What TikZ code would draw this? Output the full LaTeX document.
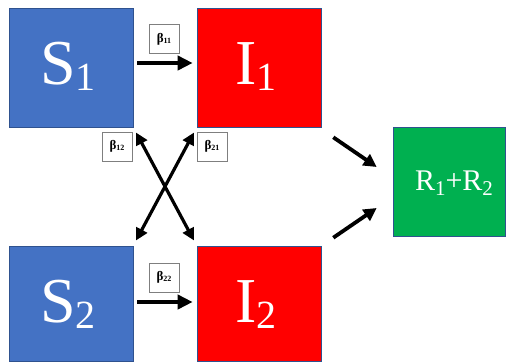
\documentclass[tikz,border=0pt]{standalone}
\usepackage{fontspec}
\setmainfont{Liberation Serif}
\usetikzlibrary{arrows.meta,calc}

\definecolor{sblue}{HTML}{4472C4}
\definecolor{ired}{HTML}{FF0000}
\definecolor{rgreen}{HTML}{00B050}
\definecolor{edgeblue}{HTML}{2F528F}
\definecolor{labgray}{HTML}{7F7F7F}

% subscript helpers
\newcommand{\bigsub}[1]{\raisebox{-6pt}{\fontsize{40}{40}\selectfont #1}}
\newcommand{\midsub}[1]{\raisebox{-5pt}{\fontsize{21}{21}\selectfont #1}}
\newcommand{\ratelab}[1]{\textbf{β\raisebox{-1pt}{\fontsize{8}{8}\selectfont #1}}}

\begin{document}
\begin{tikzpicture}[x=1pt,y=-1pt,
  compart/.style={draw=edgeblue, line width=0.6pt, minimum width=124pt, inner sep=0pt},
  comptext/.style={anchor=base, text=white, inner sep=0pt, font=\fontsize{64}{64}\selectfont},
  ratebox/.style={draw=labgray, fill=white, line width=0.8pt,
    minimum width=30pt, minimum height=29pt, inner sep=0pt,
    font=\fontsize{13}{13}\selectfont},
  flow/.style={line width=3.8pt, -{Triangle[length=15pt,width=14pt]}},
  swap/.style={line width=3.2pt, {Triangle[length=12pt,width=12pt]}-{Triangle[length=12pt,width=12pt]},
    shorten <=6pt, shorten >=6pt}]

\useasboundingbox (0,0) rectangle (507,362);

% compartments
\node[compart, fill=sblue, minimum height=119pt] (S1) at (71,67.5) {};
\node[compart, fill=ired, minimum height=119pt] (I1) at (259,67.5) {};
\node[compart, fill=sblue, minimum height=115pt] (S2) at (71,303.5) {};
\node[compart, fill=ired, minimum height=115pt] (I2) at (259,303.5) {};
\node[draw=edgeblue, line width=0.6pt, fill=rgreen, minimum width=112pt,
  minimum height=109pt, inner sep=0pt] (R) at (449,181.5) {};

% compartment names
\node[comptext] (tS1) at (68,84) {S\bigsub{1}};
\node[comptext] (tI1) at (256,84) {I\bigsub{1}};
\node[comptext] (tS2) at (68,322) {S\bigsub{2}};
\node[comptext] (tI2) at (256,322) {I\bigsub{2}};
\node[anchor=base, text=white, inner sep=0pt, font=\fontsize{30}{30}\selectfont]
  (tR) at (454,190) {R\midsub{1}+R\midsub{2}};

% transmission within groups
\draw[flow, shorten <=4pt, shorten >=4pt]
  ([yshift=4.5pt]S1.east) -- ([yshift=4.5pt]I1.west);
\draw[flow, shorten <=4pt, shorten >=4pt]
  ([yshift=1.5pt]S2.east) -- ([yshift=1.5pt]I2.west);

% transmission across groups
\draw[swap] (S1.south east) -- (I2.north west);
\draw[swap] (I1.south west) -- (S2.north east);

% recovery
\coordinate (u0) at ($(I1.south east)+(12,10)$);
\coordinate (u1) at ($(R.west)+(-16,-14.5)$);
\coordinate (l0) at ($(I2.north east)+(12,-8)$);
\coordinate (l1) at ($(R.west)+(-16,26.5)$);
\draw[line width=3.8pt, -{Triangle[length=13pt,width=13pt]}] (u0) -- (u1);
\draw[line width=3.8pt, -{Triangle[length=13pt,width=13pt]}] (l0) -- (l1);

% rate labels
\node[ratebox] (b11) at (164,39) {\ratelab{11}};
\node[ratebox] (b12) at (117,146.5) {\ratelab{12}};
\node[ratebox] (b21) at (212,146.5) {\ratelab{21}};
\node[ratebox] (b22) at (164,277.5) {\ratelab{22}};
\end{tikzpicture}
\end{document}
